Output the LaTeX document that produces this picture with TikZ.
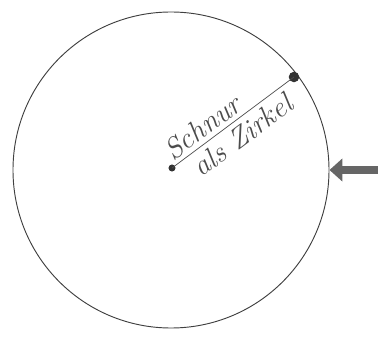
\documentclass[tikz,border=0pt]{standalone}
\usepackage{tikz}
\usetikzlibrary{arrows.meta, positioning}

\begin{document}
\begin{tikzpicture}[x=0.03cm, y=-0.03cm]
    \useasboundingbox (0,0) rectangle (382,338);

    % Kreis
    \node[draw=black!75, thick, circle, minimum size=9.48cm, inner sep=0pt] (kreis) at (171,170) {};

    % Mittelpunkt und Punkt am Rand
    \fill[black!80] (172,168) circle (3pt) coordinate (mitte);
    \fill[black!80] (294,77) circle (4.5pt) coordinate (rand);

    % Schnur
    \draw[black!70, semithick] (mitte) -- (rand)
        node[pos=0.32, above=0pt, sloped] {\fontsize{25}{28}\selectfont\itshape Schnur}
        node[pos=0.5, below=1pt, sloped] {\fontsize{25}{28}\selectfont\itshape als Zirkel};

    % Pfeil
    \coordinate[right=1.45cm of kreis.east] (pfeil);
    \draw[-{Triangle[length=11pt, width=19pt]}, line width=6pt, black!60] (pfeil) -- (kreis.east);
\end{tikzpicture}
\end{document}
